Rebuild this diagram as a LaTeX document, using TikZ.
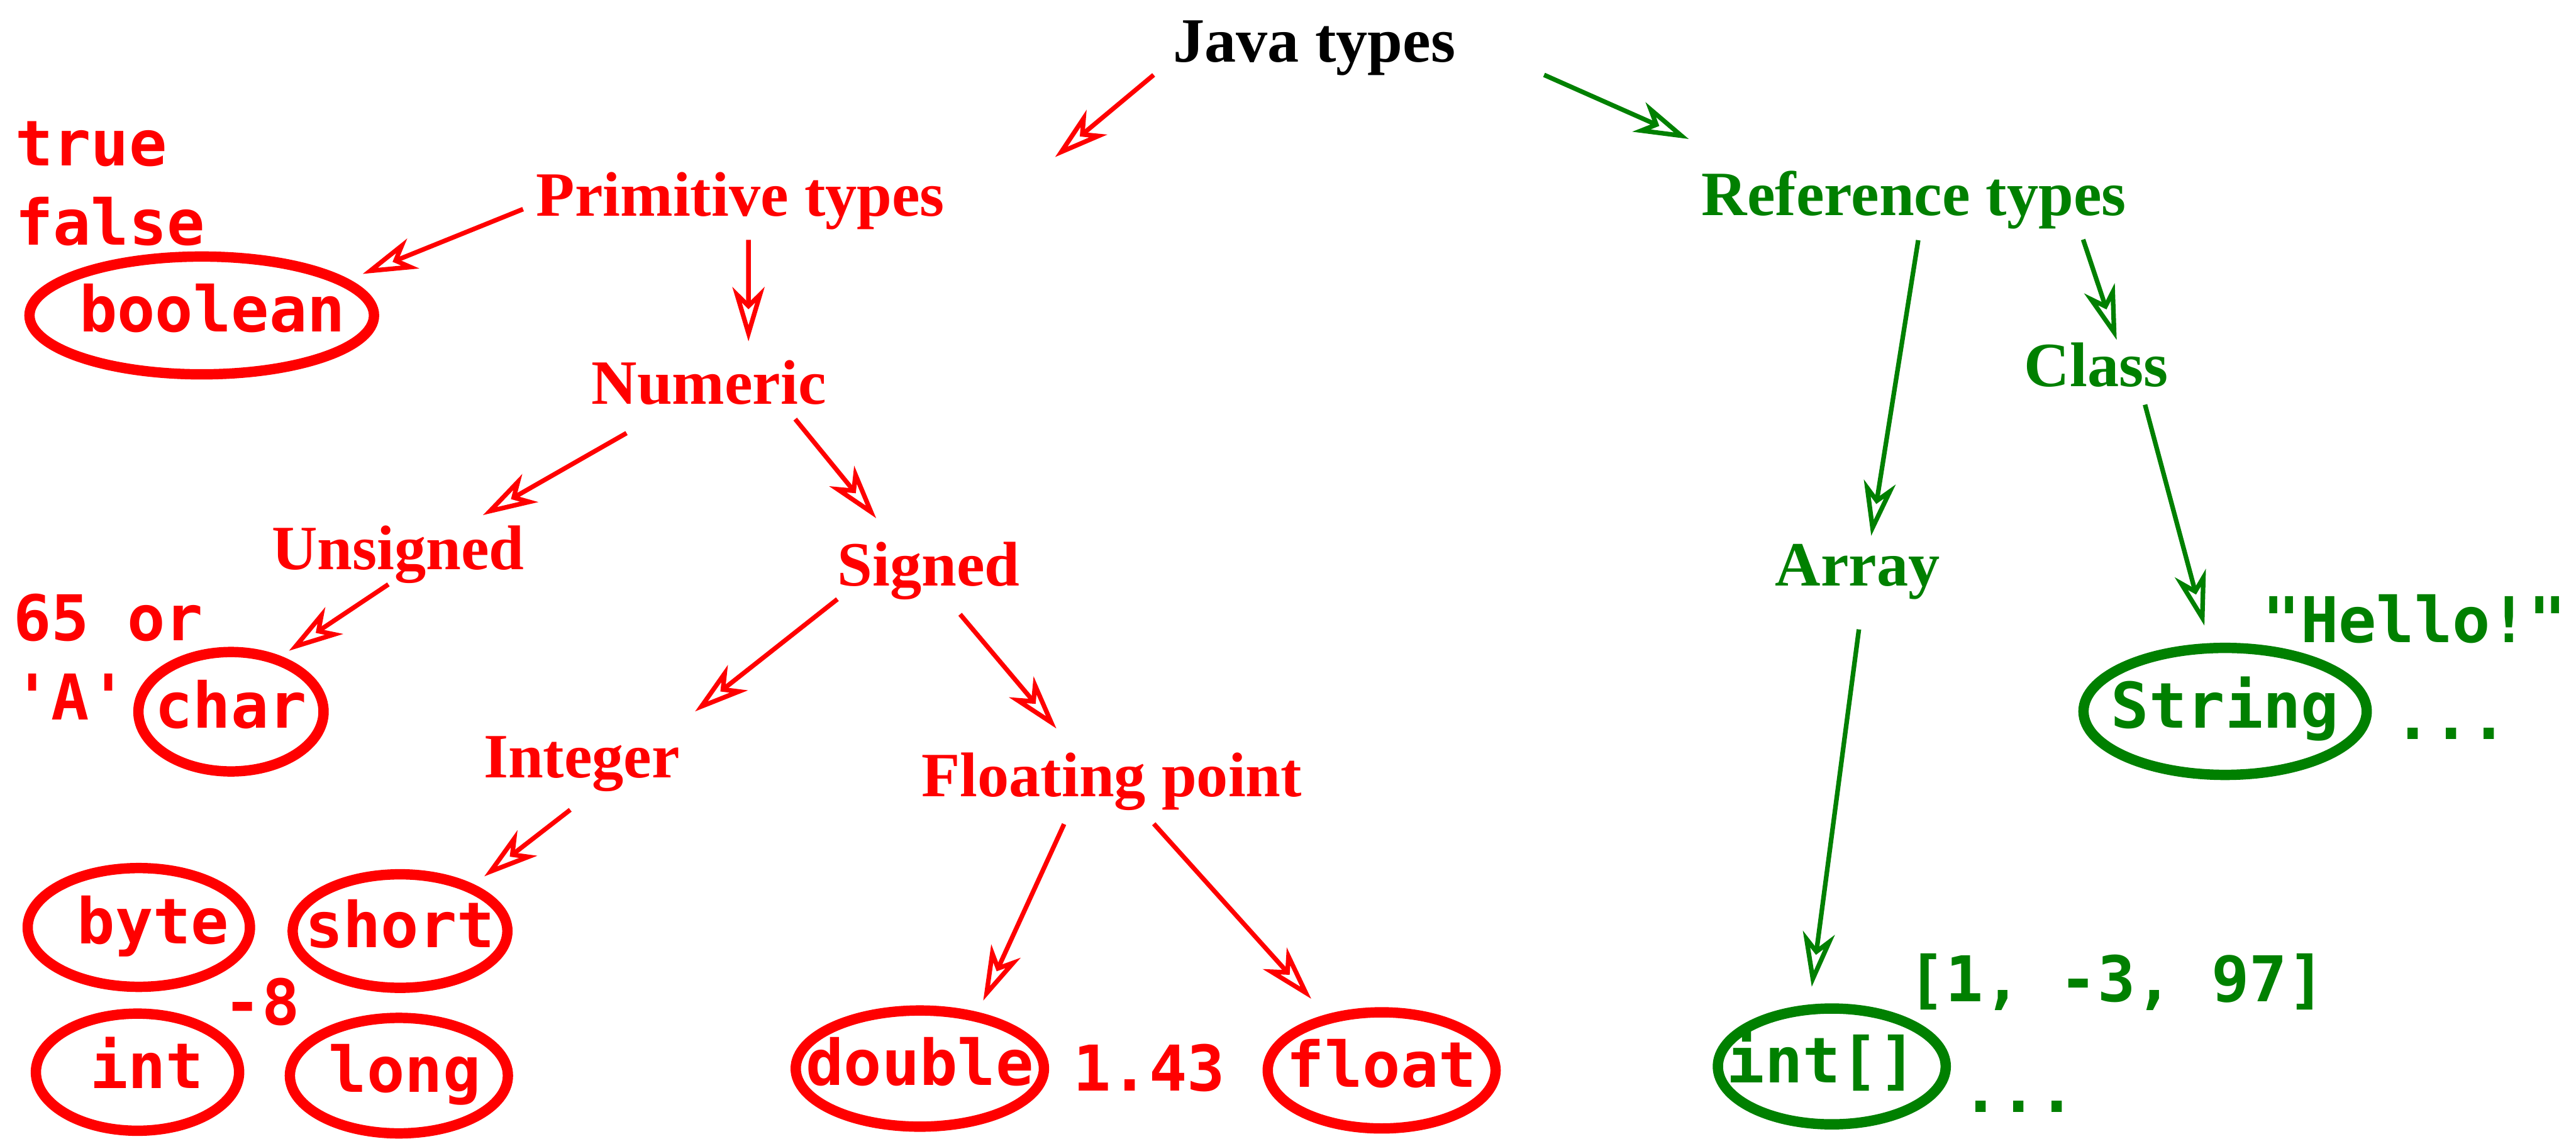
\documentclass[tikz,border=0pt]{standalone}
\usepackage{fontspec}
\setmainfont{Liberation Serif}
\setmonofont{DejaVu Sans Mono}
\usetikzlibrary{shapes.geometric, arrows.meta}
\definecolor{refgreen}{RGB}{0,128,0}
\tikzstyle{category} = [font=\bfseries\fontsize{38.4}{46}\selectfont, inner sep=0pt, text height=27pt, text depth=9pt]
\tikzstyle{jtype} = [ellipse, draw, line width=6.3pt, inner xsep=-20pt, inner ysep=-10pt, text height=28pt, text depth=8pt, font=\ttfamily\bfseries\fontsize{38.4}{46}\selectfont]
\tikzstyle{value} = [font=\ttfamily\bfseries\fontsize{38.4}{46}\selectfont, inner sep=0pt]
\tikzstyle{arrow} = [line width=2.8pt, -{Stealth[open, length=33pt, width=19.5pt, inset=9.5pt]}]

\begin{document}
\begin{tikzpicture}[x=1pt, y=-1pt, node distance=110pt]
    \useasboundingbox (0,0) rectangle (1568,693);
    \node (java) [category] at (800,28.7) {Java types};
    \node (prim) [category, red, below of=java, xshift=-349.3pt, yshift=16.2pt] {Primitive types};
    \node (ref) [category, refgreen, below of=java, xshift=365pt, yshift=16.5pt] {Reference types};
    \node (numeric) [category, red, below of=prim, xshift=-19.2pt, yshift=-4.5pt] {Numeric};
    \node (unsigned) [category, red, below of=numeric, xshift=-189.2pt, yshift=9.2pt] {Unsigned};
    \node (signed) [category, red, below of=numeric, xshift=133.8pt, yshift=-0.7pt] {Signed};
    \node (integer) [category, red, below of=signed, xshift=-211.2pt, yshift=-6.8pt] {Integer};
    \node (floating) [category, red, below of=signed, xshift=111.4pt, yshift=-18pt] {Floating point};
    \node (class) [category, refgreen, below of=ref, xshift=111pt, yshift=6pt] {Class};
    \node (array) [category, refgreen, below of=ref, xshift=-34.3pt, yshift=-115.4pt] {Array};
    \node (boolean) [jtype, red, left of=prim, xshift=-217.9pt, yshift=-69.5pt, minimum width=209.7pt, minimum height=71.7pt] {\hspace*{12.8pt}boolean};
    \node (char) [jtype, red, below of=unsigned, xshift=-101.7pt, yshift=14.6pt, minimum width=112.7pt, minimum height=72.7pt] {char};
    \node (short) [jtype, red, below of=integer, xshift=-110.6pt, yshift=7.8pt, minimum width=130.7pt, minimum height=69.1pt] {short};
    \node (byte) [jtype, red, left of=short, xshift=-49pt, yshift=2.2pt, minimum width=135.3pt, minimum height=72.3pt] {\hspace*{17.4pt}byte};
    \node (long) [jtype, red, below of=short, xshift=-0.7pt, yshift=22pt, minimum width=132.7pt, minimum height=70.3pt] {\hspace*{7.2pt}long};
    \node (int) [jtype, red, left of=long, xshift=-49.1pt, yshift=2.1pt, minimum width=123.7pt, minimum height=71.3pt] {\hspace*{11.6pt}int};
    \node (double) [jtype, red, below of=floating, xshift=-116.8pt, yshift=-64.7pt, minimum width=151.1pt, minimum height=70.7pt] {double};
    \node (float) [jtype, red, below of=floating, xshift=164.3pt, yshift=-65.8pt, minimum width=138.7pt, minimum height=70.7pt] {float};
    \node (string) [jtype, refgreen, below of=class, xshift=78.4pt, yshift=-96.8pt, minimum width=172.4pt, minimum height=77.3pt] {String};
    \node (intarr) [jtype, refgreen, below of=array, xshift=-15.7pt, yshift=-191.5pt, minimum width=138.7pt, minimum height=70.5pt] {int[]\hspace*{12.2pt}};
    % example values
    \node (vtrue) [value, red, above of=boolean, anchor=base west, xshift=-113.8pt, yshift=-19pt] {true};
    \node (vfalse) [value, red, above of=boolean, anchor=base west, xshift=-113.8pt, yshift=-67.1pt] {false};
    \node (vcode) [value, red, left of=char, anchor=base west, xshift=-22.6pt, yshift=43.4pt] {65 or};
    \node (vletter) [value, red, left of=char, anchor=base west, xshift=-22.6pt, yshift=-5pt] {'A'};
    \node (vneg) [value, red, right of=int, anchor=base west, xshift=-57.7pt, yshift=29pt] {-8};
    \node (vfrac) [value, red, right of=double, anchor=base west, xshift=-16.9pt, yshift=-13.6pt] {1.43};
    \node (vhello) [value, refgreen, above of=string, anchor=base west, xshift=22.6pt, yshift=-68.2pt] {"Hello!"};
    \node (vmore) [value, refgreen, right of=string, anchor=base west, xshift=-7.4pt, yshift=-17pt] {...};
    \node (vlist) [value, refgreen, above of=intarr, anchor=base west, xshift=46pt, yshift=-70.7pt] {[1, -3, 97]};
    \node (vrest) [value, refgreen, right of=intarr, anchor=base west, xshift=-31pt, yshift=-27.9pt] {...};
    % connectors
    \draw [arrow, red] ([shift={(-11.7,-1.3)}]java.south west) -- ([shift={(67.1,-8.7)}]prim.north east);
    \draw [arrow, refgreen] ([shift={(53.8,-1.3)}]java.south east) -- ([shift={(-7.7,-19.4)}]ref.north west);
    \draw [arrow, red] ([shift={(-7.9,4.8)}]prim.west) -- ([shift={(-10,-25.3)}]boolean.east);
    \draw [arrow, red] ([shift={(4.9,5.3)}]prim.south) -- ([shift={(24.1,-11)}]numeric.north);
    \draw [arrow, red] ([shift={(21.5,8.4)}]numeric.south west) -- ([shift={(51.7,-6.1)}]unsigned.north);
    \draw [arrow, red] ([shift={(-19.1,-0.1)}]numeric.south east) -- ([shift={(-32,-14.1)}]signed.north);
    \draw [arrow, red] ([shift={(-5.9,-0.3)}]unsigned.south) -- ([shift={(35.3,2.4)}]char.north);
    \draw [arrow, red] ([shift={(0.1,-1.2)}]signed.south west) -- ([shift={(9.1,-13.3)}]integer.north east);
    \draw [arrow, red] ([shift={(19.1,8)}]signed.south) -- ([shift={(-33.7,-14.1)}]floating.north);
    \draw [arrow, red] ([shift={(-7,10.2)}]integer.south) -- ([shift={(51.3,4.4)}]short.north);
    \draw [arrow, red] ([shift={(-29,7.7)}]floating.south) -- ([shift={(38.6,-2.9)}]double.north);
    \draw [arrow, red] ([shift={(25.6,7.5)}]floating.south) -- ([shift={(-42.9,-5.1)}]float.north);
    \draw [arrow, refgreen] ([shift={(2.6,5.8)}]ref.south) -- ([shift={(8.3,-3.3)}]array.north);
    \draw [arrow, refgreen] ([shift={(-26.4,5.4)}]ref.south east) -- ([shift={(12.4,-1.1)}]class.north);
    \draw [arrow, refgreen] ([shift={(-14.3,1.9)}]class.south east) -- ([shift={(-12.6,-10.4)}]string.north);
    \draw [arrow, refgreen] ([shift={(0.8,17.3)}]array.south) -- ([shift={(-12.2,-10.1)}]intarr.north);
\end{tikzpicture}
\end{document}
